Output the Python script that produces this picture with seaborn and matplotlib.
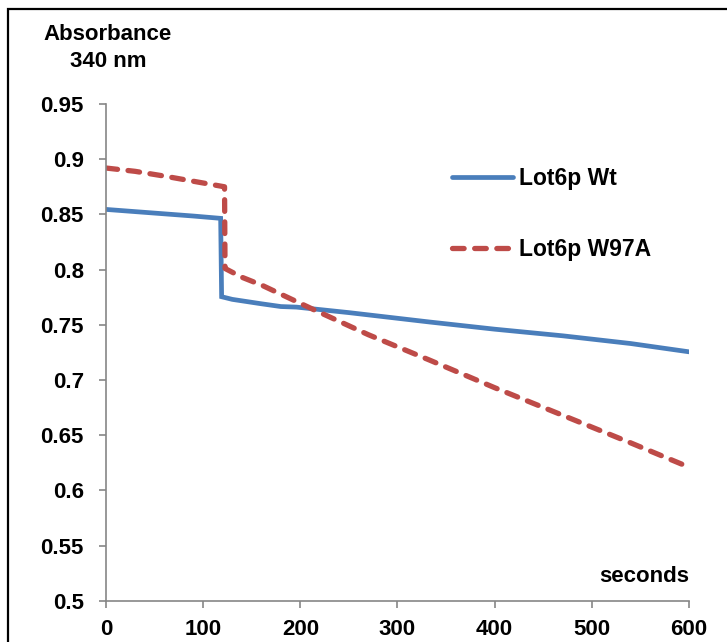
import numpy as np
import pandas as pd
import matplotlib
matplotlib.use("Agg")
import matplotlib.pyplot as plt
import seaborn as sns
from matplotlib.lines import Line2D
from matplotlib.patches import Rectangle

# ===============================
# Data
# ===============================

wt_seconds = [0, 30, 60, 90, 118, 119, 130, 160, 180, 196, 250, 333, 400, 470, 540, 600]
wt_absorb = [0.8545, 0.8525, 0.8505, 0.8485, 0.8464, 0.7754, 0.773, 0.769, 0.7665, 0.766,
             0.761, 0.7525, 0.746, 0.740, 0.733, 0.7255]

w97a_seconds = [0, 30, 60, 90, 122, 122.5, 140, 160, 213, 270, 333, 400, 470, 540, 600]
w97a_absorb = [0.892, 0.889, 0.8847, 0.880, 0.875, 0.801, 0.793, 0.786, 0.764, 0.741,
               0.718, 0.693, 0.668, 0.643, 0.621]

series_names = ["Lot6p Wt", "Lot6p W97A"]
y_ticks = [0.5, 0.55, 0.6, 0.65, 0.7, 0.75, 0.8, 0.85, 0.9, 0.95]
y_tick_labels = ["0.5", "0.55", "0.6", "0.65", "0.7", "0.75", "0.8", "0.85", "0.9", "0.95"]
x_ticks = [0, 100, 200, 300, 400, 500, 600]

blue = "#4A7EBB"
red = "#BE4B48"
axis_gray = "#868686"

# ===============================
# Style
# ===============================

sns.set_style("ticks")
plt.rcParams["font.family"] = ["Liberation Sans", "DejaVu Sans"]
plt.rcParams["font.weight"] = "bold"
plt.rcParams["text.color"] = "black"

df_wt = pd.DataFrame({"seconds": wt_seconds, "absorbance": wt_absorb})
df_mut = pd.DataFrame({"seconds": w97a_seconds, "absorbance": w97a_absorb})

fig = plt.figure(figsize=(7.27, 6.42), dpi=100)
ax = fig.add_axes([0.1458, 0.0643, 0.8019, 0.7737])

sns.lineplot(data=df_wt, x="seconds", y="absorbance", color=blue,
             linewidth=3.4, estimator=None, sort=False, ax=ax)
sns.lineplot(data=df_mut, x="seconds", y="absorbance", color=red,
             linewidth=3.8, estimator=None, sort=False, ax=ax)

red_dash = (2.2, 2.0)
ax.lines[1].set_dashes(red_dash)
ax.lines[1].set_dash_capstyle("round")
ax.lines[0].set_solid_joinstyle("miter")

# ===============================
# Axes
# ===============================

ax.set_xlim(0, 600)
ax.set_ylim(0.5, 0.95)
ax.set_xticks(x_ticks)
ax.set_yticks(y_ticks)
ax.set_yticklabels(y_tick_labels)
ax.set_xlabel("")
ax.set_ylabel("")

for side in ["top", "right"]:
    ax.spines[side].set_visible(False)
for side in ["left", "bottom"]:
    ax.spines[side].set_color(axis_gray)
    ax.spines[side].set_linewidth(1.2)

ax.tick_params(axis="both", colors=axis_gray, labelcolor="black",
               length=5, width=1.2, labelsize=16)
ax.tick_params(axis="y", pad=11)
ax.tick_params(axis="x", pad=8)
for lab in ax.get_xticklabels() + ax.get_yticklabels():
    lab.set_fontweight("bold")

ax.text(600, 0.5215, "seconds", ha="right", va="center",
        fontsize=16, fontweight="bold", color="black")

fig.text(108 / 727, 1 - 48 / 642, "Absorbance\n340 nm", ha="center", va="center",
         fontsize=16, fontweight="bold", linespacing=1.32, color="black")

# ===============================
# Legend
# ===============================

handles = [
    Line2D([], [], color=blue, linewidth=3.4),
    Line2D([], [], color=red, linewidth=3.8, dashes=red_dash, dash_capstyle="round"),
]
ax.legend(handles, series_names, loc="upper left", bbox_to_anchor=(0.5935, 0.874),
          frameon=False, borderaxespad=0, borderpad=0, handlelength=2.66,
          handletextpad=0.26, labelspacing=2.1, labelcolor="black",
          prop={"size": 16.5, "weight": "bold"})

# figure frame
fig.patches.append(Rectangle((8 / 727, -0.1), 1.2, 1 - 9 / 642 + 0.1,
                             transform=fig.transFigure, fill=False,
                             edgecolor="black", linewidth=1.6))

fig.savefig("out.png", dpi=100)
